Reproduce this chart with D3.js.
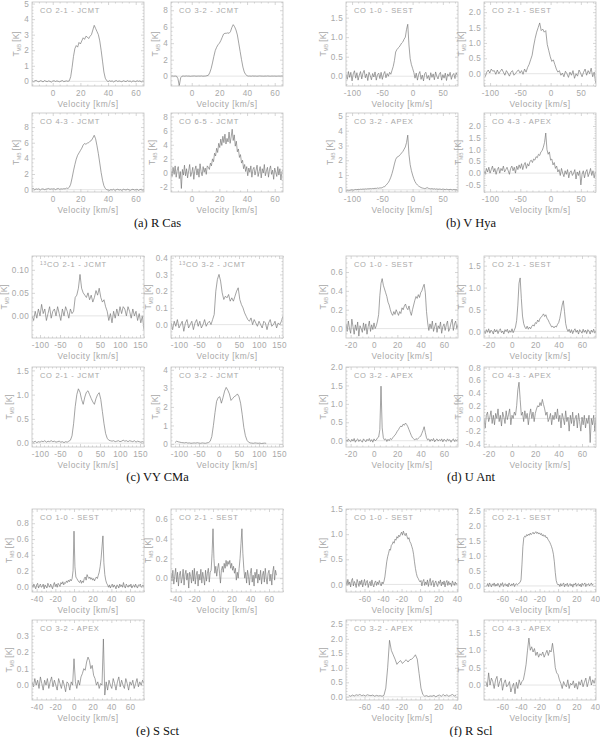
<!DOCTYPE html>
<html><head><meta charset="utf-8">
<script src="https://cdnjs.cloudflare.com/ajax/libs/d3/7.8.5/d3.min.js"></script>
<style>body{margin:0;background:#fff}</style>
</head><body>
<svg id="c" width="600" height="737"></svg>
<script>
// ---------------- DATA (antenna temperature T_MB [K], uniform velocity channels) ----------------
// (a) R Cas
const rcas21 = [0.05,-0.02,0.03,0.06,0.0,-0.03,0.04,0.02,-0.04,0.05,0.01,-0.02,0.03,0.0,-0.05,0.02,0.04,-0.01,0.03,0.0,-0.03,0.02,0.05,-0.02,0.01,0.03,0.0,0.04,
 0.3,0.9,1.6,2.1,2.3,2.2,2.5,2.4,2.6,2.8,2.7,2.9,2.85,2.75,2.9,3.0,3.3,3.6,3.4,3.2,3.0,2.6,2.0,1.3,0.6,0.2,0.05,
 -0.02,0.04,0.0,0.03,-0.04,0.02,0.05,-0.01,0.03,0.0,-0.03,0.04,0.01,-0.02,0.05,0.0,0.02,-0.04,0.03,0.01,-0.02,0.04,0.0,0.03,-0.03,0.02,0.01];
const rcas32 = [0.0,0.02,-0.01,0.01,0.0,-0.3,-1.15,-0.2,0.0,0.01,-0.01,0.02,0.0,0.01,-0.02,0.0,0.01,0.02,-0.01,0.0,0.01,0.0,0.02,-0.01,0.0,0.01,0.05,0.1,
 0.4,0.9,1.6,2.4,3.1,3.5,3.8,4.0,4.3,4.7,5.1,5.2,5.2,5.25,5.2,5.4,5.9,6.25,6.0,5.6,5.0,4.0,3.0,2.0,1.1,0.5,0.2,0.05,0.0,
 0.01,-0.01,0.02,0.0,0.01,-0.01,0.0,0.02,0.01,0.0,-0.01,0.01,0.0,0.02,0.0,-0.01,0.01,0.0,0.01,-0.01,0.0,0.01,0.0,0.02,0.0];
const rcas43 = [0.1,0.15,0.0,0.1,0.05,0.12,-0.05,0.08,0.1,0.0,0.06,0.1,0.15,0.05,0.1,0.08,0.12,0.0,0.1,0.15,0.05,0.1,0.08,0.12,0.1,0.2,0.15,0.3,
 0.7,1.5,2.4,3.2,3.9,4.4,4.7,5.0,5.3,5.7,5.9,5.8,5.95,6.0,6.2,6.3,6.6,6.95,6.5,5.6,4.6,3.4,2.2,1.2,0.5,0.15,0.0,-0.05,
 -0.1,0.0,-0.05,0.05,-0.1,0.0,0.05,-0.05,0.0,-0.1,0.05,0.0,-0.05,0.05,0.0,-0.1,0.0,0.05,-0.05,0.0,0.05,-0.1,0.0,0.05,-0.05,0.0];
const rcas65 = [0.3,-0.5,0.8,-0.2,1.0,-0.6,0.4,0.9,-0.8,0.2,-2.2,0.5,-0.3,1.1,-0.4,0.6,-0.7,0.3,1.2,-0.5,0.0,0.8,-0.9,0.4,1.0,-0.3,0.6,-0.6,1.3,0.2,-0.4,0.9,0.1,0.7,-0.2,1.0,
 0.8,0.5,1.4,1.0,2.0,1.6,2.8,2.4,3.5,2.9,4.2,3.6,4.8,3.9,5.2,4.3,
 5.5,4.1,4.9,4.4,5.8,4.2,5.1,6.2,4.6,5.4,3.8,4.5,3.0,3.4,2.2,2.6,
 1.4,1.8,0.6,1.2,0.2,0.9,-0.4,0.7,0.1,1.0,-0.6,0.5,0.8,-0.3,0.4,1.1,-0.5,0.2,0.9,-0.7,0.6,0.0,1.2,-0.4,0.3,0.8,-0.6,0.5,1.0,-0.2,0.4,-0.9,0.7,0.1,-0.5,0.9,-0.3,0.6,-1.0,0.2,0.4];
// (b) V Hya
const vhya10 = [0.05,-0.08,0.12,-0.03,0.1,-0.12,0.06,0.14,-0.05,0.09,-0.1,0.03,0.12,-0.07,0.08,0.15,-0.04,0.06,-0.11,0.1,0.02,-0.09,0.07,-0.02,0.11,-0.1,0.04,0.08,-0.06,0.1,-0.08,0.05,0.12,-0.04,0.07,0.0,0.1,0.05,
 0.15,0.25,0.4,0.62,0.68,0.72,0.75,0.8,0.85,0.88,0.95,1.0,1.2,1.33,0.8,
 0.45,0.3,0.2,0.1,-0.05,0.08,-0.1,0.05,0.12,-0.08,0.03,-0.12,0.07,0.1,-0.06,0.02,-0.1,0.09,-0.03,0.06,-0.09,0.11,0.0,-0.07,0.05,0.1,-0.1,0.04,-0.05,0.08,-0.11,0.06,0.0,0.1,-0.08,0.03,0.07,-0.06,0.09,0.02];
const vhya21 = [-0.1,0.05,0.12,0.02,0.15,0.08,0.1,-0.02,0.12,0.0,0.08,0.15,0.05,-0.05,0.1,0.02,-0.08,0.05,0.1,-0.05,0.0,0.08,0.12,0.02,0.1,-0.02,0.15,0.05,
 0.2,0.3,0.45,0.6,0.9,1.15,1.35,1.5,1.65,1.4,1.45,1.35,1.4,0.95,0.75,0.55,0.4,0.45,0.3,0.15,
 0.05,0.1,-0.05,0.02,-0.1,0.08,0.0,-0.12,0.05,-0.05,0.1,-0.15,0.0,-0.08,0.12,0.02,-0.1,0.05,0.15,-0.05,0.1,0.0,0.18,-0.1,0.05,-0.3];
const vhya32 = [-0.05,-0.03,-0.06,-0.04,-0.02,0.0,-0.03,0.0,0.02,0.0,0.03,0.02,0.04,0.03,0.05,0.04,0.06,0.05,0.07,0.06,0.08,0.07,0.09,0.08,0.1,0.09,0.12,0.1,0.13,0.12,
 0.15,0.2,0.22,0.3,0.4,0.5,0.65,0.85,1.1,1.4,1.75,2.05,2.2,2.25,2.3,2.4,2.5,2.6,2.75,2.9,3.2,3.7,2.4,1.7,1.3,1.0,0.75,0.55,0.42,0.32,0.25,0.2,0.15,
 0.12,0.1,0.08,0.1,0.15,0.1,0.08,0.06,0.08,0.05,0.07,0.04,0.06,0.03,0.05,0.04,0.02,0.05,0.03,0.01,0.04,0.02,0.0,0.03,0.01,-0.01,0.02,0.0,0.01,-0.02];
const vhya43 = [0.1,-0.05,0.2,0.05,0.25,0.0,0.15,0.3,0.05,0.2,-0.05,0.15,0.25,0.0,0.2,0.1,0.3,0.05,0.15,0.25,0.1,-0.05,0.2,0.3,0.1,0.25,0.0,0.3,0.15,0.35,
 0.2,0.4,0.15,0.35,0.45,0.2,0.4,0.3,0.5,0.55,0.45,0.6,0.55,0.7,0.65,0.8,0.75,0.9,0.95,1.1,
 1.3,1.7,1.0,0.8,0.9,0.55,0.6,0.35,0.45,0.2,0.3,0.05,0.15,-0.1,0.2,0.0,-0.15,0.1,-0.05,0.15,-0.2,0.05,0.1,-0.1,0.0,0.15,-0.25,0.05,-0.1,0.1,-0.5,-0.05,0.1,-0.2,0.05,0.15,-0.15,0.0,0.2,-0.1,0.1,-0.2,0.05];
// (c) VY CMa
const vy13co21 = [0.0,-0.01,0.01,-0.005,0.015,0.0,0.025,0.005,0.015,-0.01,0.005,0.02,-0.005,0.01,0.015,0.0,0.02,0.005,-0.01,0.015,0.0,0.02,0.01,-0.005,0.015,0.005,0.01,
 0.04,0.045,0.06,0.09,0.06,0.05,0.045,0.04,0.05,0.035,0.045,0.03,0.04,0.055,0.045,0.06,0.04,0.03,0.035,0.02,0.01,
 -0.01,0.005,-0.015,0.01,-0.005,0.015,0.0,0.02,0.005,0.02,0.015,0.0,0.02,0.01,-0.005,0.015,0.0,0.01,-0.01,0.005,-0.015,0.0,-0.03];
const vy13co32 = [0.01,-0.03,0.02,-0.01,0.03,-0.02,0.0,0.02,-0.04,0.01,0.03,-0.02,0.0,0.02,-0.03,0.01,0.03,-0.01,0.02,-0.02,0.0,0.03,-0.01,0.01,0.02,0.0,0.03,
 0.06,0.2,0.27,0.3,0.26,0.19,0.15,0.17,0.16,0.18,0.14,0.16,0.14,0.17,0.2,0.22,0.15,0.12,0.1,0.07,0.05,0.03,
 0.02,0.04,0.0,0.03,0.01,-0.01,0.02,0.0,-0.02,0.02,0.01,-0.03,0.01,0.03,-0.01,0.0,0.02,-0.02,0.01,0.0,0.02,0.05];
const vyco21 = [0.03,0.02,0.04,0.01,0.03,0.02,0.04,0.03,0.05,0.02,0.04,0.03,0.05,0.03,0.04,0.02,0.03,0.04,0.02,0.03,0.01,0.03,0.02,0.04,
 0.06,0.15,0.4,0.75,1.0,1.12,1.05,0.9,0.8,0.95,1.05,1.08,1.0,0.92,0.85,0.8,0.92,1.0,1.04,0.9,0.65,0.4,0.2,0.1,0.06,
 0.05,0.04,0.05,0.03,0.04,0.05,0.03,0.04,0.06,0.04,0.05,0.03,0.05,0.04,0.03,0.05,0.02,0.04,0.03,0.02,0.03,0.02];
const vyco32 = [0.08,0.15,0.12,0.1,0.08,0.07,0.06,0.08,0.05,0.06,0.04,0.05,0.06,0.05,0.07,0.05,0.04,0.06,0.05,0.04,0.06,0.08,
 0.15,0.4,1.0,1.7,2.3,2.5,2.55,2.2,2.5,2.85,3.05,2.9,2.7,2.35,2.45,2.55,2.6,2.7,2.55,2.2,1.6,0.9,0.45,0.2,0.1,0.06,
 0.05,0.04,0.06,0.05,0.04,0.05,0.03,0.04,0.05,0.04];
// (d) U Ant
const uant10 = [0.05,-0.03,0.08,0.0,-0.05,0.1,0.02,-0.06,0.04,-0.02,0.07,-0.08,0.03,0.0,-0.04,0.06,-0.02,0.05,-0.06,0.02,0.08,-0.03,0.04,-0.01,0.06,0.0,0.03,0.08,
 0.15,0.35,0.48,0.53,0.46,0.42,0.38,0.34,0.28,0.25,0.2,0.16,0.14,0.18,0.15,0.2,0.17,0.14,0.18,0.16,0.22,0.2,0.24,0.26,0.22,0.2,0.24,0.18,0.14,0.2,0.25,0.3,0.34,0.32,0.36,0.33,0.38,0.4,0.44,0.47,0.38,0.18,0.06,
 -0.02,0.05,0.0,0.08,-0.03,0.02,0.06,-0.04,0.03,0.0,0.07,-0.05,0.02,0.05,-0.02,0.04,0.08,-0.03,0.0,0.06,0.1,-0.02,0.05,0.08,0.0,0.04];
const uant21 = [0.02,-0.05,0.04,-0.02,0.06,-0.04,0.03,0.0,-0.06,0.05,-0.01,0.04,-0.05,0.02,0.06,-0.03,0.01,-0.06,0.04,0.0,0.05,-0.04,0.02,-0.02,0.06,-0.03,0.03,0.1,
 0.25,0.6,1.1,1.22,0.75,0.35,0.18,0.1,0.06,0.12,0.05,0.1,0.06,0.12,0.15,0.12,0.2,0.18,0.26,0.22,0.3,0.32,0.36,0.4,0.34,0.38,0.3,0.26,0.2,0.15,0.1,0.12,0.08,0.12,0.1,0.16,0.2,0.3,0.45,0.6,0.7,0.45,0.18,0.06,
 0.0,0.05,-0.03,0.04,-0.05,0.02,0.06,-0.02,0.03,-0.06,0.04,0.0,-0.04,0.05,-0.02,0.03,-0.05,0.04,0.01,-0.06,0.03,-0.02,0.05,-0.04,0.02];
const uant32 = [0.03,-0.02,0.05,0.0,-0.03,0.04,-0.01,0.06,-0.04,0.02,0.05,-0.02,0.03,0.0,-0.04,0.05,0.01,-0.03,0.04,0.0,0.06,-0.02,0.03,-0.04,0.05,0.0,0.02,0.08,
 0.1,0.3,1.48,0.35,0.08,0.02,0.05,-0.02,0.04,0.0,0.06,0.03,0.08,0.12,0.15,0.2,0.26,0.3,0.36,0.4,0.38,0.45,0.42,0.48,0.44,0.38,0.3,0.22,0.14,0.08,0.05,0.02,0.06,0.03,0.07,0.1,0.12,0.2,0.28,0.38,0.22,0.08,0.02,
 0.05,-0.02,0.04,0.0,0.06,-0.03,0.02,0.05,-0.01,0.03,0.0,0.05,-0.03,0.04,0.01,-0.02,0.05,0.0,0.03,-0.04,0.02,0.05,-0.02,0.03,0.0,0.04];
const uant43 = [0.0,-0.15,0.05,0.1,-0.05,0.02,0.12,-0.08,0.05,-0.1,0.08,0.0,0.15,-0.05,0.05,-0.12,0.1,0.02,-0.08,0.12,-0.02,0.06,0.15,-0.1,0.05,0.0,0.1,0.05,
 0.2,0.45,0.57,0.3,0.05,
 0.1,-0.05,0.12,0.0,0.08,-0.1,0.05,0.15,0.0,0.1,-0.05,0.08,0.15,0.2,0.18,0.25,0.2,0.3,0.22,0.15,0.05,0.1,-0.05,0.0,0.08,-0.1,0.05,-0.02,0.1,0.0,
 0.15,-0.05,0.05,-0.15,0.08,0.0,-0.1,0.12,-0.05,0.02,-0.2,0.05,-0.08,0.1,-0.12,0.0,0.05,-0.15,0.08,-0.05,-0.2,0.02,-0.1,0.05,-0.15,0.0,-0.08,0.05,-0.38,0.0,-0.1,0.05,-0.2,0.02];
// (e) S Sct
const ssct10 = [0.02,-0.01,0.03,0.0,-0.03,0.02,0.04,-0.02,0.01,0.03,-0.01,0.0,0.03,-0.03,0.02,0.0,-0.02,0.04,0.01,-0.01,0.03,0.0,-0.03,0.02,0.05,0.0,0.03,-0.01,0.04,0.02,0.0,0.05,0.03,0.06,0.02,0.05,0.04,0.07,0.05,0.08,
 0.06,0.09,0.07,0.1,0.2,0.7,0.25,0.12,0.1,0.08,0.06,0.05,0.08,0.04,0.07,0.05,0.1,0.12,0.08,0.15,0.12,0.1,0.12,0.09,0.11,0.08,0.1,0.07,0.1,0.12,0.1,0.14,0.18,0.25,0.35,0.5,0.64,0.3,0.15,0.08,0.04,0.02,-0.01,
 0.02,-0.02,0.01,0.03,-0.01,0.02,0.0,-0.03,0.02,0.01,-0.02,0.03,0.0,0.02,-0.01,0.05,0.0,-0.02,0.03,0.01,-0.01,0.02,0.0,0.03,-0.02,0.01,0.02,-0.01,0.03,0.0,-0.02,0.02,0.01,0.03,-0.01,0.0,0.02,-0.01];
const ssct21 = [0.05,-0.03,0.08,-0.06,0.02,0.1,-0.04,0.06,-0.08,0.03,0.07,-0.05,0.0,0.09,-0.07,0.04,0.08,-0.02,0.05,-0.1,0.06,0.02,-0.05,0.08,-0.03,0.1,-0.06,0.03,0.07,-0.08,0.04,-0.02,0.09,-0.05,0.06,0.0,-0.07,0.08,-0.03,0.05,0.1,-0.04,0.06,
 0.08,0.25,0.5,0.2,0.05,0.12,0.02,0.1,0.15,0.05,-0.05,0.08,0.12,0.06,0.15,0.1,0.18,0.12,0.17,0.14,0.18,0.1,0.15,0.08,0.12,0.05,0.1,-0.02,0.06,0.0,0.1,0.2,0.35,0.5,0.25,0.1,0.0,
 0.06,-0.05,0.08,0.02,-0.07,0.05,0.1,-0.04,0.03,-0.08,0.06,0.0,0.09,-0.05,0.04,-0.02,0.08,-0.06,0.03,0.07,-0.04,0.1,0.0,-0.06,0.05,0.08,-0.03,0.04,-0.07,0.06,0.12,-0.02,0.08,0.03];
const ssct32 = [0.02,-0.01,0.04,0.0,0.03,-0.02,0.05,0.01,-0.03,0.03,0.0,0.04,-0.02,0.02,0.05,-0.01,0.03,0.0,-0.03,0.04,0.01,-0.02,0.03,0.0,-0.04,0.02,0.01,-0.03,0.02,0.0,
 0.16,
 0.02,-0.02,0.03,0.0,0.05,0.07,0.1,0.09,0.14,0.17,0.15,0.1,0.12,0.06,0.04,0.0,0.02,-0.02,0.01,0.0,
 0.28,
 -0.06,0.02,-0.03,0.03,0.0,-0.02,0.04,0.01,-0.03,0.02,0.05,-0.01,0.03,0.0,-0.02,0.04,0.01,-0.03,0.02,0.0,0.03,-0.02,0.01,0.04,-0.01,0.02,0.0,0.03,0.01];
// (f) R Scl
const rscl10 = [0.08,-0.02,0.1,0.0,0.05,-0.05,0.08,0.12,-0.03,0.06,0.02,-0.06,0.1,0.04,-0.04,0.07,0.0,0.09,-0.05,0.03,0.1,-0.02,0.05,0.08,-0.06,0.02,0.06,-0.03,0.09,0.0,-0.05,0.04,0.07,-0.02,0.05,0.0,0.08,0.02,-0.03,0.05,0.01,0.06,
 0.15,0.3,0.45,0.55,0.62,0.7,0.68,0.78,0.8,0.85,0.82,0.9,0.88,0.95,0.92,0.98,0.95,1.0,1.04,0.98,1.06,1.0,0.97,1.02,0.95,0.9,0.93,0.85,0.82,0.76,0.7,0.6,0.45,0.32,0.22,0.15,0.12,0.08,0.05,
 0.08,-0.03,0.06,0.1,-0.02,0.05,0.0,0.09,-0.04,0.06,0.12,-0.02,0.05,0.08,-0.05,0.03,0.07,0.0,-0.04,0.06,0.02,0.09,-0.03,0.05,0.0,0.07,-0.05,0.04,0.08,-0.02,0.06,0.0,0.03,-0.04,0.07,0.02,-0.02,0.05,0.0,0.03];
const rscl21 = [0.0,0.08,-0.02,0.1,0.04,-0.03,0.07,0.02,0.1,-0.01,0.06,0.0,0.09,0.03,-0.04,0.08,0.02,0.11,-0.02,0.05,0.08,0.0,0.06,-0.03,0.1,0.04,0.0,0.07,0.02,0.09,-0.02,0.05,0.08,0.03,0.06,0.1,0.12,
 0.2,0.7,1.3,1.6,1.65,1.62,1.7,1.66,1.72,1.68,1.75,1.7,1.74,1.78,1.72,1.76,1.8,1.74,1.78,1.72,1.76,1.7,1.74,1.66,1.7,1.64,1.68,1.6,1.62,1.55,1.5,1.45,1.38,1.3,1.2,1.05,0.8,0.45,0.18,0.08,0.03,
 0.06,-0.02,0.08,0.0,0.05,0.1,-0.03,0.06,0.02,0.09,-0.02,0.04,0.08,0.0,0.06,-0.04,0.07,0.03,0.1,-0.01,0.05,0.08,0.0,0.06,-0.03,0.09,0.02,0.05,0.1,-0.02,0.06,0.03,0.08,0.0,0.05,0.1,0.02,0.07];
const rscl32 = [0.05,0.02,0.06,0.03,0.07,0.05,0.08,0.04,0.06,0.03,0.07,0.05,0.04,0.06,0.02,0.05,0.03,0.04,0.02,0.05,
 0.3,1.0,1.95,1.6,1.45,1.3,1.12,1.2,1.25,1.15,1.22,1.28,1.2,1.28,1.3,1.36,1.45,1.3,0.8,0.3,0.08,
 0.02,0.04,0.01,0.03,0.02,0.05,0.0,0.04,0.06,0.02,0.08,0.03,0.07,0.02,0.05,0.08,0.03,0.06];
const rscl43 = [0.1,-0.05,0.35,0.0,0.2,0.1,-0.1,0.15,0.25,-0.05,0.1,0.2,-0.15,0.05,0.15,-0.05,0.0,0.1,-0.2,-0.05,0.05,-0.25,0.08,-0.1,0.15,0.0,0.1,
 0.15,0.35,0.6,1.0,1.35,1.0,1.1,0.95,1.05,0.85,0.95,0.8,0.9,0.85,0.95,0.8,0.9,1.0,0.85,1.0,0.95,1.2,0.9,0.5,0.35,0.3,0.15,
 0.05,-0.1,0.1,0.0,-0.05,0.15,-0.1,0.05,0.0,0.12,-0.08,0.05,-0.12,0.1,0.0,0.15,-0.05,0.08,0.2,-0.05,0.1,0.25,0.0,0.15,0.05,0.2];

// ---------------- TICKS ----------------
const xTicksA = [0,20,40,60];
const xTicksB = [-100,-50,0,50];
const xTicksC = [-100,-50,0,50,100,150];
const xTicksD = [-20,0,20,40,60];
const xTicksE = [-40,-20,0,20,40,60];
const xTicksF = [-60,-40,-20,0,20,40];

const panels = [
 {g:'a', title:'CO 2-1 - JCMT', data:rcas21, v0:-15, dv:1, xd:[-15,66], yd:[-0.3,5.1], xt:xTicksA, yt:[0,1,2,3,4,5], dec:0},
 {g:'a', title:'CO 3-2 - JCMT', data:rcas32, v0:-15, dv:1, xd:[-15,66], yd:[-1.2,9.0], xt:xTicksA, yt:[0,2,4,6,8], dec:0},
 {g:'a', title:'CO 4-3 - JCMT', data:rcas43, v0:-15, dv:1, xd:[-15,66], yd:[-0.3,9.8], xt:xTicksA, yt:[0,2,4,6,8], dec:0},
 {g:'a', title:'CO 6-5 - JCMT', data:rcas65, v0:-15, dv:0.75, xd:[-15,66], yd:[-2.7,8.5], xt:xTicksA, yt:[-2,0,2,4,6,8], dec:0},
 {g:'b', title:'CO 1-0 - SEST', data:vhya10, v0:-110, dv:2, xd:[-110,75], yd:[-0.25,1.9], xt:xTicksB, yt:[0,0.5,1.0,1.5], dec:1},
 {g:'b', title:'CO 2-1 - SEST', data:vhya21, v0:-108, dv:2.5, xd:[-110,75], yd:[-0.4,2.33], xt:xTicksB, yt:[0,0.5,1.0,1.5,2.0], dec:1},
 {g:'b', title:'CO 3-2 - APEX', data:vhya32, v0:-110, dv:2, xd:[-110,75], yd:[-0.15,5.2], xt:xTicksB, yt:[0,1,2,3,4,5], dec:0},
 {g:'b', title:'CO 4-3 - APEX', data:vhya43, v0:-110, dv:2, xd:[-110,75], yd:[-0.8,2.55], xt:xTicksB, yt:[-0.5,0,0.5,1.0,1.5,2.0], dec:1},
 {g:'c', title:'13CO 2-1 - JCMT', iso:true, data:vy13co21, v0:-120, dv:4, xd:[-120,160], yd:[-0.048,0.13], xt:xTicksC, yt:[0,0.05,0.10], dec:2},
 {g:'c', title:'13CO 3-2 - JCMT', iso:true, data:vy13co32, v0:-120, dv:4, xd:[-120,160], yd:[-0.08,0.41], xt:xTicksC, yt:[0,0.1,0.2,0.3,0.4], dec:1},
 {g:'c', title:'CO 2-1 - JCMT', data:vyco21, v0:-120, dv:4, xd:[-120,160], yd:[-0.08,1.57], xt:xTicksC, yt:[0,0.5,1.0,1.5], dec:1},
 {g:'c', title:'CO 3-2 - JCMT', data:vyco32, v0:-110, dv:4, xd:[-120,160], yd:[-0.16,4.15], xt:xTicksC, yt:[0,1,2,3,4], dec:0},
 {g:'d', title:'CO 1-0 - SEST', data:uant10, v0:-24, dv:1, xd:[-24,72], yd:[-0.1,0.77], xt:xTicksD, yt:[0,0.2,0.4,0.6], dec:1},
 {g:'d', title:'CO 2-1 - SEST', data:uant21, v0:-24, dv:1, xd:[-24,72], yd:[-0.15,1.72], xt:xTicksD, yt:[0,0.5,1.0,1.5], dec:1},
 {g:'d', title:'CO 3-2 - APEX', data:uant32, v0:-24, dv:1, xd:[-24,72], yd:[-0.17,2.0], xt:xTicksD, yt:[0,0.5,1.0,1.5,2.0], dec:1},
 {g:'d', title:'CO 4-3 - APEX', data:uant43, v0:-24, dv:1, xd:[-24,72], yd:[-0.45,0.81], xt:xTicksD, yt:[-0.4,-0.2,0,0.2,0.4,0.6,0.8], dec:1},
 {g:'e', title:'CO 1-0 - SEST', data:ssct10, v0:-45, dv:1, xd:[-45,75], yd:[-0.07,0.98], xt:xTicksE, yt:[0,0.2,0.4,0.6,0.8], dec:1},
 {g:'e', title:'CO 2-1 - SEST', data:ssct21, v0:-45, dv:1, xd:[-45,75], yd:[-0.14,0.7], xt:xTicksE, yt:[0,0.2,0.4,0.6], dec:1},
 {g:'e', title:'CO 3-2 - APEX', data:ssct32, v0:-45, dv:1.5, xd:[-45,75], yd:[-0.09,0.395], xt:xTicksE, yt:[0,0.1,0.2,0.3], dec:1},
 {g:'f', title:'CO 1-0 - SEST', data:rscl10, v0:-80, dv:1, xd:[-80,41], yd:[-0.15,1.5], xt:xTicksF, yt:[0,0.5,1.0,1.5], dec:1},
 {g:'f', title:'CO 2-1 - SEST', data:rscl21, v0:-77, dv:1, xd:[-80,41], yd:[-0.2,2.55], xt:xTicksF, yt:[0,0.5,1.0,1.5,2.0,2.5], dec:1},
 {g:'f', title:'CO 3-2 - APEX', data:rscl32, v0:-77, dv:2, xd:[-80,41], yd:[-0.11,2.65], xt:xTicksF, yt:[0,0.5,1.0,1.5,2.0,2.5], dec:1},
 {g:'f', title:'CO 4-3 - APEX', data:rscl43, v0:-78, dv:1.5, xd:[-80,41], yd:[-0.43,1.87], xt:xTicksF, yt:[0,0.5,1.0,1.5], dec:1}
];
const captions = {a:'(a)  R Cas', b:'(b)  V Hya', c:'(c)  VY CMa', d:'(d)  U Ant', e:'(e)  S Sct', f:'(f)  R Scl'};

// ---------------- LAYOUT ----------------
const colX = [[32,144],[171,283],[346,458],[484,596]];
const rowY = [[2,86],[113,192],[256,338],[367,447],[509,592],[620,700]];
const groupPos = {a:{c:0,r:0}, b:{c:2,r:0}, c:{c:0,r:2}, d:{c:2,r:2}, e:{c:0,r:4}, f:{c:2,r:4}};
const captionY = [227, 481, 735];

const AX = '#c4c4c4', TXT = '#a8a8a8', LINE = '#727272';
const FONT = 'Liberation Sans, Arial, sans-serif';
const svg = d3.select('#c');
const defs = svg.append('defs');

function fmt(v, dec){ const a = Math.abs(v) < 1e-9 ? 0 : v; const s = Math.abs(a).toFixed(dec); return (a < 0 ? '-' : '') + s; }
function minors(ticks, domain){
  const step = ticks[1]-ticks[0];
  const lead = +(step/Math.pow(10, Math.floor(Math.log10(step)))).toFixed(3);
  const n = lead === 2 ? 4 : 5;
  const ms = step/n, out = [];
  for (let t = ticks[0] - step; t <= ticks[ticks.length-1] + step + 1e-9; t += ms) {
    if (t >= domain[0] && t <= domain[1] && !ticks.some(k => Math.abs(k-t) < 1e-9)) out.push(t);
  }
  return out;
}

const groupCount = {};
panels.forEach((p, idx) => {
  const k = groupCount[p.g] = (groupCount[p.g] || 0);
  groupCount[p.g]++;
  const gp = groupPos[p.g];
  const [x0, x1] = colX[gp.c + (k % 2)];
  const [y0, y1] = rowY[gp.r + Math.floor(k / 2)];
  const x = d3.scaleLinear().domain(p.xd).range([x0, x1]);
  const y = d3.scaleLinear().domain(p.yd).range([y1, y0]);
  const g = svg.append('g');
  const cid = 'clip' + idx;
  defs.append('clipPath').attr('id', cid).append('rect').attr('x', x0).attr('y', y0).attr('width', x1-x0).attr('height', y1-y0);

  // zero line
  g.append('line').attr('x1', x0).attr('x2', x1).attr('y1', y(0)).attr('y2', y(0))
    .attr('stroke', '#d4d4d4').attr('stroke-width', 0.6);

  // spectrum
  const pts = p.data.map((t, i) => [p.v0 + i * p.dv, t]);
  g.append('path').attr('d', d3.line().x(d => x(d[0])).y(d => y(d[1]))(pts))
    .attr('fill', 'none').attr('stroke', LINE).attr('stroke-width', 0.65)
    .attr('stroke-linejoin', 'round').attr('clip-path', `url(#${cid})`);

  // axes
  const style = sel => { sel.select('.domain').remove(); sel.selectAll('line').attr('stroke', AX).attr('stroke-width', 0.7);
    sel.selectAll('text').attr('fill', TXT).attr('font-family', FONT).attr('font-size', 8.2).attr('letter-spacing', 0.3); };
  g.append('g').attr('transform', `translate(0,${y1})`).call(d3.axisBottom(x).tickValues(p.xt).tickSize(-3).tickPadding(4).tickFormat(v => fmt(v, 0))).call(style);
  g.append('g').attr('transform', `translate(0,${y0})`).call(d3.axisTop(x).tickValues(p.xt).tickSize(-3).tickFormat('')).call(style);
  g.append('g').attr('transform', `translate(0,${y1})`).call(d3.axisBottom(x).tickValues(minors(p.xt, p.xd)).tickSize(-1.5).tickFormat('')).call(style);
  g.append('g').attr('transform', `translate(0,${y0})`).call(d3.axisTop(x).tickValues(minors(p.xt, p.xd)).tickSize(-1.5).tickFormat('')).call(style);
  const ly = g.append('g').attr('transform', `translate(${x0},0)`).call(d3.axisLeft(y).tickValues(p.yt).tickSize(-3).tickPadding(3).tickFormat(v => fmt(v, p.dec))).call(style);
  g.append('g').attr('transform', `translate(${x1},0)`).call(d3.axisRight(y).tickValues(p.yt).tickSize(-3).tickFormat('')).call(style);
  g.append('g').attr('transform', `translate(${x0},0)`).call(d3.axisLeft(y).tickValues(minors(p.yt, p.yd)).tickSize(-1.5).tickFormat('')).call(style);
  g.append('g').attr('transform', `translate(${x1},0)`).call(d3.axisRight(y).tickValues(minors(p.yt, p.yd)).tickSize(-1.5).tickFormat('')).call(style);

  // frame
  g.append('rect').attr('x', x0).attr('y', y0).attr('width', x1-x0).attr('height', y1-y0)
    .attr('fill', 'none').attr('stroke', AX).attr('stroke-width', 0.8);

  // title
  const tt = g.append('text').attr('x', x0 + 8).attr('y', y0 + 11).attr('fill', TXT)
    .attr('font-family', FONT).attr('font-size', 7.5).attr('letter-spacing', 0.7);
  if (p.iso) { tt.append('tspan').attr('font-size', 5).attr('dy', -2.5).text('13'); tt.append('tspan').attr('dy', 2.5).text(p.title.slice(2)); }
  else tt.text(p.title);

  // x label
  g.append('text').attr('x', (x0+x1)/2).attr('y', y1 + 21).attr('text-anchor', 'middle').attr('fill', TXT)
    .attr('font-family', FONT).attr('font-size', 8.4).attr('letter-spacing', 0.5)
    .text('Velocity [km/s]');

  // y label
  let w = 0; ly.selectAll('text').each(function(){ w = Math.max(w, this.getBBox().width); });
  const yl = g.append('text').attr('transform', `translate(${x0 - 3 - w - 5},${(y0+y1)/2}) rotate(-90)`)
    .attr('text-anchor', 'middle').attr('fill', TXT).attr('font-family', FONT).attr('font-size', 8.4);
  yl.append('tspan').text('T');
  yl.append('tspan').attr('font-size', 5).attr('dy', 2).text('MB');
  yl.append('tspan').attr('dy', -2).text(' [K]');
});

// captions
Object.keys(captions).forEach(key => {
  const gp = groupPos[key];
  const cx = (colX[gp.c][0] + colX[gp.c + 1][1]) / 2;
  svg.append('text').attr('x', cx).attr('y', captionY[gp.r / 2]).attr('text-anchor', 'middle')
    .attr('font-family', 'Liberation Serif, Times New Roman, serif').attr('font-size', 12.5).attr('fill', '#111')
    .text(captions[key]);
});
</script>
</body></html>
